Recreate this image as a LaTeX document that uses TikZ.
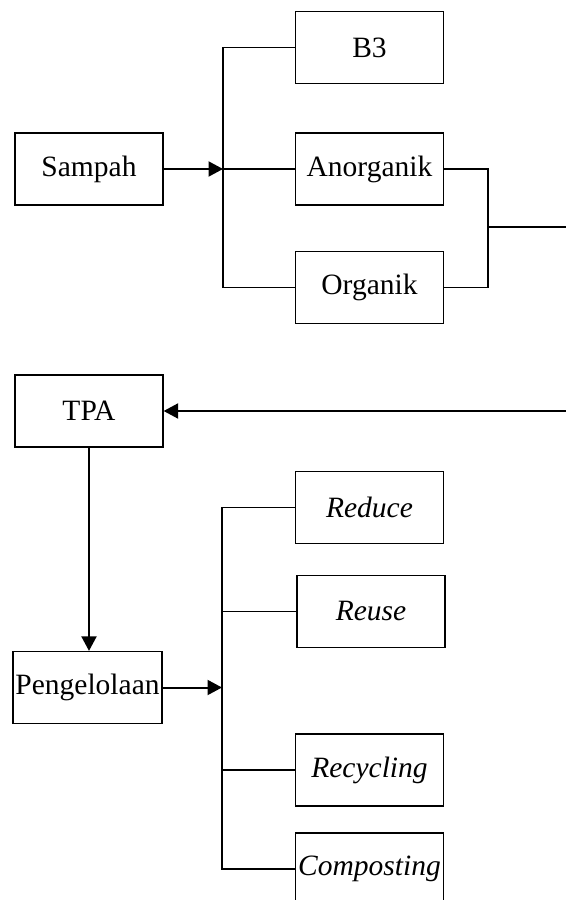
\documentclass[tikz,border=0pt]{standalone}
\usepackage{fontspec}
\setmainfont{Liberation Serif}
\usetikzlibrary{arrows.meta}
\tikzset{
  kotak/.style={draw, line width=0.5pt, minimum width=59.2pt, minimum height=28.8pt, inner sep=0pt, font=\fontsize{11.8}{14}\selectfont},
  garis/.style={line width=0.5pt},
  panah/.style={line width=0.8pt, -{Triangle[length=5.8pt,width=6pt]}}
}
\begin{document}
\begin{tikzpicture}[x=0.4pt, y=-0.4pt]
  \useasboundingbox (0,0) rectangle (566,900);
  \clip (0,0) rectangle (566,900);

  % Jenis sampah
  \node[kotak] (sampah) at (89,169) {Sampah};
  \node[kotak] (b3) at (369.5,47.5) {B3};
  \node[kotak] (anorganik) at (369.5,169) {Anorganik};
  \node[kotak] (organik) at (369.5,287.5) {Organik};
  \coordinate (bus1) at (223,169);
  \draw[garis] (b3.west) -| (bus1) |- (organik.west);
  \draw[garis] (bus1) -- (anorganik.west);
  \draw[panah] (sampah.east) -- (bus1);

  % Ke TPA
  \node[kotak] (tpa) at (89,411) {TPA};
  \coordinate (gabung) at (488,227);
  \coordinate (luar) at (620,227);
  \draw[garis] (anorganik.east) -| (gabung) |- (organik.east);
  \draw[panah] (gabung) -- (luar) |- (tpa.east);

  % Pengelolaan
  \node[kotak, minimum width=59.6pt] (pengelolaan) at (87.5,687.5) {Pengelolaan};
  \draw[panah] (tpa.south) -- (tpa.south |- pengelolaan.north);
  \node[kotak] (reduce) at (369.5,507.5) {\textit{Reduce}};
  \node[kotak] (reuse) at (371,611.5) {\textit{Reuse}};
  \node[kotak] (recycling) at (369.5,770) {\textit{Recycling}};
  \node[kotak] (composting) at (369.5,869) {\textit{Composting}};
  \coordinate (bus2) at (222,687.5);
  \draw[garis] (reduce.west) -| (bus2) |- (composting.west);
  \draw[garis] (reuse.west) -- (reuse.west -| bus2);
  \draw[garis] (recycling.west) -- (recycling.west -| bus2);
  \draw[panah] (pengelolaan.east) -- (bus2);
\end{tikzpicture}
\end{document}
